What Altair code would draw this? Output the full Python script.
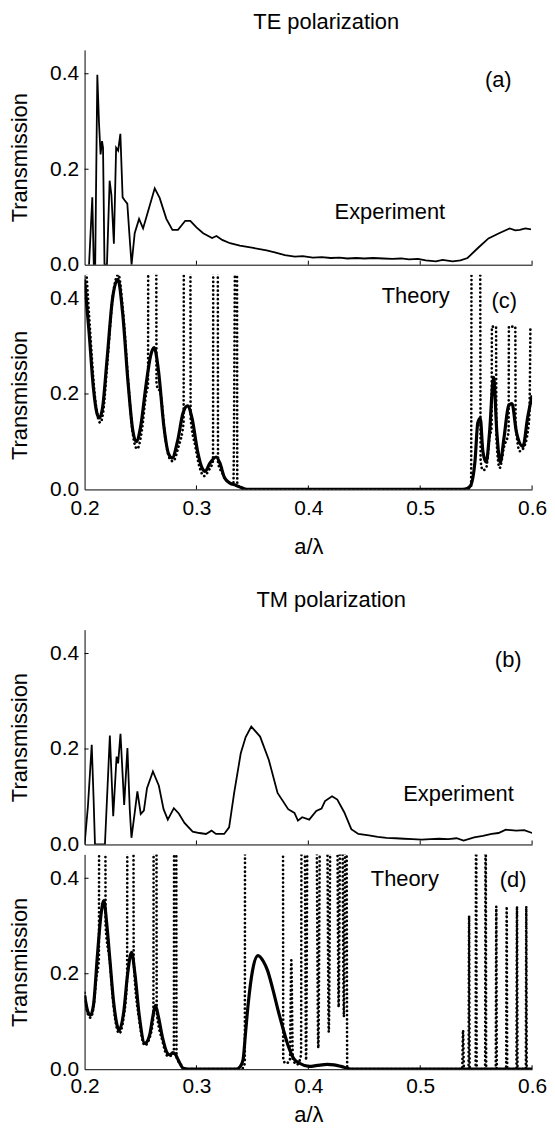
import altair as alt
import pandas as pd

FONT = "Liberation Sans"

# ---------------- data ----------------
# TE experiment (panel a)
te_exp_x = [0.2040, 0.2069, 0.2082, 0.2095, 0.2114, 0.2129, 0.2143, 0.2156, 0.2165, 0.2178,
            0.2200, 0.2224, 0.2240, 0.2262, 0.2282, 0.2300, 0.2320, 0.2340, 0.2358, 0.2382,
            0.2400, 0.2420, 0.2448, 0.2487, 0.2523, 0.2565, 0.2627, 0.2671, 0.2731, 0.2785,
            0.2835, 0.2900, 0.2945, 0.3000, 0.3060, 0.3140, 0.3179, 0.3230, 0.3300, 0.3388,
            0.3508, 0.3627, 0.3700, 0.3790, 0.3880, 0.3950, 0.4040, 0.4120, 0.4200, 0.4280,
            0.4350, 0.4430, 0.4500, 0.4580, 0.4670, 0.4750, 0.4830, 0.4900, 0.4980, 0.5050,
            0.5140, 0.5200, 0.5290, 0.5360, 0.5423, 0.5516, 0.5610, 0.5705, 0.5800, 0.5850,
            0.5890, 0.5940, 0.5990]
te_exp_y = [0.000, 0.141, 0.000, 0.000, 0.398, 0.297, 0.231, 0.259, 0.245, 0.000,
            0.000, 0.176, 0.146, 0.044, 0.245, 0.239, 0.274, 0.141, 0.135, 0.128,
            0.066, 0.000, 0.066, 0.096, 0.076, 0.110, 0.160, 0.140, 0.096, 0.073,
            0.073, 0.092, 0.092, 0.078, 0.066, 0.056, 0.060, 0.052, 0.045, 0.040,
            0.035, 0.030, 0.026, 0.020, 0.017, 0.018, 0.015, 0.016, 0.014, 0.015,
            0.013, 0.014, 0.013, 0.014, 0.013, 0.012, 0.013, 0.011, 0.012, 0.009,
            0.007, 0.010, 0.007, 0.009, 0.014, 0.035, 0.055, 0.066, 0.076, 0.072,
            0.073, 0.076, 0.074]

# TE theory, solid (panel c)
te_th_x = [0.2000, 0.2040, 0.2080, 0.2110, 0.2133, 0.2160, 0.2200, 0.2250, 0.2298, 0.2340,
           0.2390, 0.2430, 0.2462, 0.2500, 0.2550, 0.2590, 0.2622, 0.2660, 0.2710, 0.2750,
           0.2783, 0.2830, 0.2880, 0.2920, 0.2960, 0.3010, 0.3050, 0.3078, 0.3120, 0.3176,
           0.3210, 0.3250, 0.3300, 0.3350, 0.3400, 0.3450, 0.5380, 0.5420, 0.5450, 0.5490,
           0.5515, 0.5537, 0.5560, 0.5590, 0.5620, 0.5656, 0.5685, 0.5715, 0.5750, 0.5790,
           0.5820, 0.5860, 0.5918, 0.5960, 0.6000]
te_th_y = [0.440, 0.330, 0.210, 0.160, 0.150, 0.170, 0.270, 0.400, 0.440, 0.370,
           0.220, 0.125, 0.100, 0.130, 0.220, 0.280, 0.297, 0.250, 0.130, 0.075,
           0.066, 0.100, 0.160, 0.175, 0.150, 0.080, 0.045, 0.038, 0.055, 0.068,
           0.055, 0.025, 0.013, 0.009, 0.004, 0.000, 0.000, 0.002, 0.008, 0.060,
           0.140, 0.149, 0.080, 0.057, 0.120, 0.235, 0.120, 0.056, 0.110, 0.175,
           0.180, 0.120, 0.090, 0.150, 0.197]

# TE theory, dotted (panel c)
te_dot_x = [0.2010, 0.2050, 0.2090, 0.2120, 0.2140, 0.2165, 0.2205, 0.2255, 0.2302, 0.2345,
            0.2395, 0.2435, 0.2470, 0.2510, 0.2550, 0.2567, 0.2570, 0.2640, 0.2643, 0.2680,
            0.2720, 0.2760, 0.2790, 0.2840, 0.2885, 0.2888, 0.2945, 0.2948, 0.2990, 0.3030,
            0.3067, 0.3110, 0.3148, 0.3151, 0.3190, 0.3193, 0.3230, 0.3270, 0.3330, 0.3350,
            0.3362, 0.3365, 0.3400, 0.3450, 0.5400, 0.5455, 0.5460, 0.5535, 0.5540, 0.5560,
            0.5590, 0.5620, 0.5638, 0.5641, 0.5678, 0.5681, 0.5710, 0.5750, 0.5790, 0.5793,
            0.5850, 0.5853, 0.5890, 0.5930, 0.5975, 0.5985]
te_dot_y = [0.480, 0.330, 0.200, 0.150, 0.140, 0.160, 0.270, 0.410, 0.450, 0.370,
            0.210, 0.110, 0.085, 0.120, 0.200, 0.220, 0.600, 0.600, 0.220, 0.200,
            0.110, 0.065, 0.059, 0.090, 0.140, 0.600, 0.600, 0.150, 0.090, 0.045,
            0.028, 0.040, 0.060, 0.600, 0.600, 0.055, 0.035, 0.018, 0.012, 0.600,
            0.600, 0.010, 0.003, 0.000, 0.000, 0.005, 0.600, 0.600, 0.060, 0.040,
            0.045, 0.110, 0.130, 0.341, 0.341, 0.110, 0.045, 0.090, 0.120, 0.341,
            0.341, 0.140, 0.080, 0.090, 0.150, 0.341]

# TM experiment (panel b)
tm_exp_x = [0.2000, 0.2030, 0.2064, 0.2080, 0.2093, 0.2182, 0.2226, 0.2256, 0.2286, 0.2300,
            0.2321, 0.2354, 0.2383, 0.2404, 0.2419, 0.2448, 0.2472, 0.2502, 0.2530, 0.2558,
            0.2611, 0.2664, 0.2706, 0.2744, 0.2798, 0.2842, 0.2893, 0.2966, 0.3026, 0.3085,
            0.3135, 0.3174, 0.3248, 0.3292, 0.3337, 0.3396, 0.3440, 0.3490, 0.3569, 0.3647,
            0.3725, 0.3820, 0.3876, 0.3907, 0.3945, 0.4008, 0.4071, 0.4118, 0.4149, 0.4212,
            0.4259, 0.4322, 0.4384, 0.4447, 0.4541, 0.4620, 0.4698, 0.4780, 0.4855, 0.4930,
            0.5012, 0.5090, 0.5169, 0.5250, 0.5325, 0.5388, 0.5482, 0.5560, 0.5639, 0.5700,
            0.5765, 0.5859, 0.5930, 0.6000]
tm_exp_y = [0.000, 0.080, 0.209, 0.100, 0.000, 0.000, 0.228, 0.059, 0.184, 0.170,
            0.232, 0.083, 0.202, 0.073, 0.014, 0.066, 0.111, 0.064, 0.071, 0.118,
            0.153, 0.123, 0.074, 0.052, 0.076, 0.065, 0.045, 0.027, 0.024, 0.022,
            0.029, 0.022, 0.022, 0.036, 0.108, 0.191, 0.225, 0.247, 0.226, 0.177,
            0.108, 0.074, 0.066, 0.050, 0.057, 0.052, 0.070, 0.075, 0.091, 0.101,
            0.094, 0.067, 0.032, 0.022, 0.019, 0.016, 0.014, 0.013, 0.012, 0.011,
            0.010, 0.011, 0.012, 0.011, 0.013, 0.008, 0.015, 0.018, 0.022, 0.024,
            0.031, 0.029, 0.030, 0.024]

# TM theory, solid (panel d)
tm_th_x = [0.2000, 0.2030, 0.2053, 0.2080, 0.2116, 0.2145, 0.2172, 0.2200, 0.2226, 0.2260,
           0.2310, 0.2350, 0.2385, 0.2420, 0.2450, 0.2490, 0.2539, 0.2580, 0.2610, 0.2633,
           0.2660, 0.2695, 0.2742, 0.2765, 0.2789, 0.2815, 0.2836, 0.2883, 0.2950, 0.3353,
           0.3390, 0.3416, 0.3440, 0.3463, 0.3500, 0.3550, 0.3600, 0.3635, 0.3680, 0.3729,
           0.3780, 0.3823, 0.3870, 0.3917, 0.4011, 0.4080, 0.4168, 0.4230, 0.4293, 0.4387,
           0.6000]
tm_th_y = [0.155, 0.120, 0.113, 0.135, 0.242, 0.320, 0.353, 0.300, 0.230, 0.140,
           0.082, 0.120, 0.200, 0.245, 0.200, 0.110, 0.054, 0.070, 0.110, 0.134,
           0.110, 0.068, 0.033, 0.030, 0.035, 0.030, 0.020, 0.002, 0.000, 0.000,
           0.005, 0.019, 0.080, 0.138, 0.205, 0.238, 0.225, 0.207, 0.170, 0.124,
           0.080, 0.047, 0.022, 0.013, 0.006, 0.008, 0.010, 0.009, 0.006, 0.000,
           0.000]

# TM theory, dotted (panel d)
tm_dot_x = [0.2000, 0.2030, 0.2053, 0.2080, 0.2105, 0.2128, 0.2131, 0.2185, 0.2188, 0.2226,
            0.2260, 0.2310, 0.2350, 0.2380, 0.2383, 0.2436, 0.2439, 0.2490, 0.2539, 0.2580,
            0.2615, 0.2618, 0.2642, 0.2645, 0.2695, 0.2742, 0.2780, 0.2798, 0.2801, 0.2819,
            0.2822, 0.2860, 0.2900, 0.3400, 0.3432, 0.3435, 0.3773, 0.3776, 0.3800, 0.3835,
            0.3848, 0.3862, 0.3900, 0.3935, 0.3940, 0.3965, 0.3980, 0.3995, 0.4070, 0.4089,
            0.4108, 0.4165, 0.4183, 0.4201, 0.4255, 0.4271, 0.4288, 0.4300, 0.4318, 0.4333,
            0.4340, 0.4348, 0.5375, 0.5383, 0.5391, 0.5432, 0.5437, 0.5442, 0.5495, 0.5500,
            0.5505, 0.5580, 0.5585, 0.5590, 0.5675, 0.5680, 0.5685, 0.5768, 0.5773, 0.5778,
            0.5860, 0.5865, 0.5870, 0.5944, 0.5948, 0.5952, 0.6000]
tm_dot_y = [0.160, 0.115, 0.108, 0.130, 0.190, 0.230, 0.600, 0.600, 0.300, 0.225,
            0.130, 0.075, 0.110, 0.190, 0.600, 0.600, 0.230, 0.100, 0.050, 0.065,
            0.110, 0.600, 0.600, 0.120, 0.060, 0.028, 0.028, 0.035, 0.600, 0.600,
            0.025, 0.010, 0.000, 0.000, 0.012, 0.600, 0.600, 0.020, 0.012, 0.020,
            0.228, 0.020, 0.010, 0.030, 0.600, 0.600, 0.019, 0.600, 0.600, 0.044,
            0.600, 0.600, 0.078, 0.600, 0.600, 0.130, 0.600, 0.600, 0.110, 0.600,
            0.600, 0.000, 0.000, 0.082, 0.000, 0.000, 0.321, 0.000, 0.000, 0.600,
            0.000, 0.000, 0.600, 0.000, 0.000, 0.341, 0.000, 0.000, 0.341, 0.000,
            0.000, 0.341, 0.000, 0.000, 0.341, 0.000, 0.000]

x_tick_values = [0.2, 0.3, 0.4, 0.5, 0.6]
inner_x_ticks = [0.3, 0.4, 0.5, 0.6]
y_tick_values = [0.0, 0.2, 0.4]
inner_y_ticks = [0.2, 0.4]

W, H = 450, 216
XDOM = [0.2, 0.6]
YDOM = [0.0, 0.45]


def df(xs, ys):
    return pd.DataFrame({"x": xs, "y": ys})


def x_enc(show_labels, label_pad=8, title_pad=20):
    if show_labels:
        axis = alt.Axis(values=x_tick_values, format=".1f", ticks=False, labelFlush=False,
                        labelPadding=label_pad, title="a/λ", titlePadding=title_pad)
    else:
        axis = alt.Axis(values=x_tick_values, labels=False, ticks=False, title=None)
    return alt.X("x:Q", scale=alt.Scale(domain=XDOM, nice=False, zero=False), axis=axis)


def y_enc(title_y=None):
    kw = dict(values=y_tick_values, format=".1f", ticks=False,
              title="Transmission", labelPadding=6, titlePadding=18)
    if title_y is not None:
        kw["titleY"] = title_y
    return alt.Y("y:Q", scale=alt.Scale(domain=YDOM, nice=False), axis=alt.Axis(**kw))


def ticks():
    xt = alt.Chart(pd.DataFrame({"x": inner_x_ticks})).mark_rule(color="black", strokeWidth=1).encode(
        x=alt.X("x:Q"), y=alt.value(H), y2=alt.value(H - 4))
    yt = alt.Chart(pd.DataFrame({"y": inner_y_ticks})).mark_rule(color="black", strokeWidth=1).encode(
        y=alt.Y("y:Q"), x=alt.value(0), x2=alt.value(4))
    return [xt, yt]


def label(text, px, py):
    return alt.Chart(pd.DataFrame({"t": [text]})).mark_text(
        font=FONT, fontSize=22, color="black", align="center", baseline="middle"
    ).encode(x=alt.value(px), y=alt.value(py), text="t:N")


def exp_panel(xs, ys, texts, title, dx, offset):
    line = alt.Chart(df(xs, ys)).mark_line(color="black", strokeWidth=1.8, clip=True).encode(
        x=x_enc(False), y=y_enc())
    layers = [line] + ticks() + [label(*t) for t in texts]
    return alt.layer(*layers).properties(
        width=W, height=H,
        title=alt.TitleParams(text=title, fontSize=22, font=FONT, fontWeight="normal",
                              anchor="middle", dx=dx, offset=offset, color="black"))


def th_panel(sx, sy, dx_, dy_, texts, label_pad, title_pad, title_y=None):
    dots = alt.Chart(df(dx_, dy_)).mark_line(
        color="black", strokeWidth=2.7, strokeDash=[0.1, 4.2], strokeCap="round",
        interpolate="monotone", clip=True).encode(x=x_enc(True, label_pad, title_pad), y=y_enc(title_y))
    solid = alt.Chart(df(sx, sy)).mark_line(
        color="black", strokeWidth=3.2, interpolate="monotone", clip=True).encode(
        x=alt.X("x:Q"), y=alt.Y("y:Q"))
    layers = [dots, solid] + ticks() + [label(*t) for t in texts]
    return alt.layer(*layers).properties(width=W, height=H)


a = exp_panel(te_exp_x, te_exp_y, [("(a)", 416, 30), ("Experiment", 307, 163)], "TE polarization", 18, 16)
c = th_panel(te_th_x, te_th_y, te_dot_x, te_dot_y, [("Theory", 333, 22), ("(c)", 422, 27)], 8, 18, 121)
b = exp_panel(tm_exp_x, tm_exp_y, [("(b)", 426, 31), ("Experiment", 376, 165)], "TM polarization", 23, 18)
d = th_panel(tm_th_x, tm_th_y, tm_dot_x, tm_dot_y, [("Theory", 322, 25), ("(d)", 431, 26)], 6, 9)

te = alt.vconcat(a, c, spacing=0)
tm = alt.vconcat(b, d, spacing=0)

chart = alt.vconcat(te, tm, spacing=32).properties(
    padding={"left": 0, "top": 0, "right": 0, "bottom": 0}
).configure_axis(
    labelFont=FONT, titleFont=FONT, labelFontSize=21, titleFontSize=22,
    titleFontWeight="normal", labelColor="black", titleColor="black",
    domainColor="black", domainWidth=1, grid=False
).configure_view(strokeWidth=0)

chart.save("out.html", embed_options={"renderer": "svg", "actions": False})
